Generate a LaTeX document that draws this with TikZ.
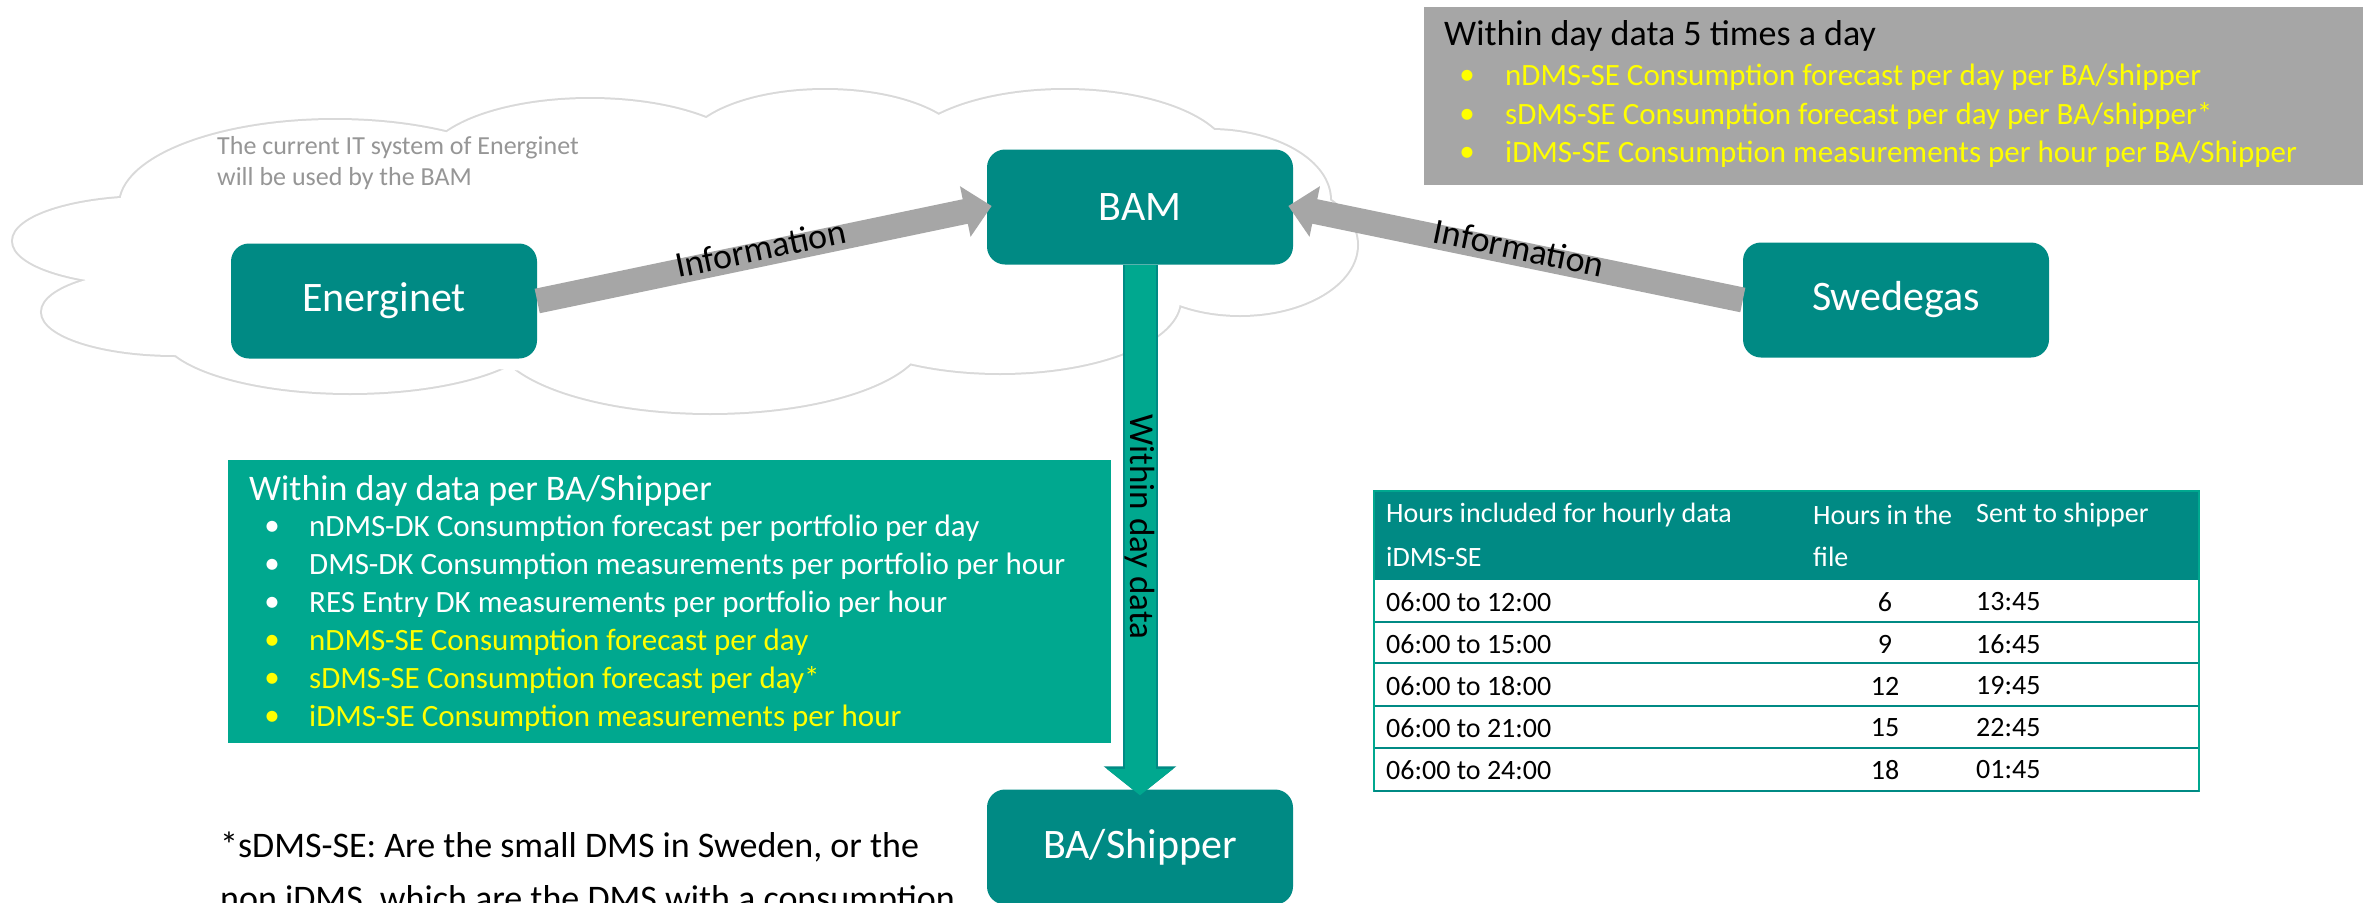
\documentclass[tikz,border=0pt]{standalone}
\usepackage{fontspec}
\setmainfont{Carlito}
\usetikzlibrary{arrows.meta}

\definecolor{tealdark}{RGB}{0,138,132}
\definecolor{teallight}{RGB}{0,168,143}
\definecolor{greybox}{RGB}{166,166,166}
\definecolor{cloudline}{RGB}{217,217,217}
\definecolor{cloudtext}{RGB}{150,150,150}
\definecolor{hilite}{RGB}{255,255,0}
\newcommand{\setfs}[2]{\fontsize{#1}{#2}\selectfont}

\begin{document}
\begin{tikzpicture}[x=1pt, y=-1pt]
	\tikzset{box/.style = {fill=tealdark, rounded corners=18pt, minimum width=306pt, minimum height=115pt, text=white, font=\setfs{42}{50}}}
	\tikzset{txt/.style = {inner sep=0pt, anchor=west}}
	\tikzset{info/.style = {line width=25pt, draw=greybox, -{Triangle[width=50pt, length=27pt]}, shorten >=-5pt}}
	\tikzset{dataout/.style = {line width=35pt, draw=tealdark, -{Triangle[width=71pt, length=29pt]}, shorten >=-6pt}}
	\tikzset{datain/.style = {line width=31pt, draw=teallight, -{Triangle[width=65pt, length=26.5pt]}, shorten >=-6pt}}
	\useasboundingbox (0,0) rectangle (2363,902);
	\foreach \cx/\cy/\rx/\ry in {150/241/137/44, 175/312/133/43, 350/330/190/63, 710/335/215/78, 1000/300/180/73, 1240/245/117/70, 1210/200/120/70, 1065/160/165/70, 825/150/140/60, 590/165/165/66, 335/205/215/85}
		\draw[cloudline, line width=4pt] (\cx,\cy) ellipse [x radius=\rx, y radius=\ry];
	\foreach \cx/\cy/\rx/\ry in {150/241/137/44, 175/312/133/43, 350/330/190/63, 710/335/215/78, 1000/300/180/73, 1240/245/117/70, 1210/200/120/70, 1065/160/165/70, 825/150/140/60, 590/165/165/66, 335/205/215/85}
		\fill[white] (\cx,\cy) ellipse [x radius=\rx, y radius=\ry];
	\fill[white] (670,255) ellipse [x radius=550, y radius=120];
	\node[txt, anchor=north west, align=left, text=cloudtext, font=\setfs{26}{31}] (note) at (217,136) {The current IT system of Energinet\\will be used by the BAM};
	\node[anchor=north west, fill=greybox, minimum width=939pt, minimum height=178pt] (gbox) at (1424,7) {};
	\node[txt, font=\setfs{36}{42}] (gtitle) at (1444,36) {Within day data 5 times a day};
	\foreach \y/\t [count=\i] in {77/{nDMS-SE Consumption forecast per day per BA/shipper}, 116/{sDMS-SE Consumption forecast per day per BA/shipper*}, 154/{iDMS-SE Consumption measurements per hour per BA/Shipper}} {
		\node[txt, anchor=center, text=hilite, font=\setfs{31}{36}] (gdot\i) at (1467,\y) {\textbullet};
		\node[txt, text=hilite, font=\setfs{31}{36}] (gitem\i) at (1505,\y) {\t};
	}
	\node[anchor=north west, fill=teallight, minimum width=883pt, minimum height=283pt] (ibox) at (228,460) {};
	\node[txt, text=white, font=\setfs{36}{42}] (ititle) at (249,491) {Within day data per BA/Shipper};
	\foreach \y/\c/\t [count=\i] in {528/white/{nDMS-DK Consumption forecast per portfolio per day}, 566/white/{DMS-DK Consumption measurements per portfolio per hour}, 604/white/{RES Entry DK measurements per portfolio per hour}, 642/hilite/{nDMS-SE Consumption forecast per day}, 680/hilite/{sDMS-SE Consumption forecast per day*}, 718/hilite/{iDMS-SE Consumption measurements per hour}} {
		\node[txt, anchor=center, text=\c, font=\setfs{31}{36}] (idot\i) at (272,\y) {\textbullet};
		\node[txt, text=\c, font=\setfs{31}{36}] (iitem\i) at (309,\y) {\t};
	}
	\node[box] (en) at (384,301) {Energinet};
	\node[box] (bam) at (1140,207) {BAM};
	\node[box] (swe) at (1896,300) {Swedegas};
	\node[box] (ba) at (1140,847) {BA/Shipper};
	\draw[info] (en.east) -- node[midway, sloped, yshift=6pt, font=\setfs{36}{42}] (inf1) {Information} (bam.west);
	\draw[info] (swe.west) -- node[midway, sloped, yshift=6pt, font=\setfs{36}{42}] (inf2) {Information} (bam.east);
	\draw[dataout] (bam.south) -- (ba.north);
	\draw[datain] (bam.south) -- node[midway, rotate=-90, font=\setfs{35}{42}] (wdd) {Within day data} (ba.north);
	\fill[tealdark] (1374,491) rectangle (2199,580);
	\foreach \y in {622,663,706,748} \draw[tealdark, line width=2pt] (1374,\y) -- (2199,\y);
	\draw[teallight, line width=1.5pt] (1374,491) rectangle (2199,791);
	\draw[tealdark, line width=2pt] (1374,791) -- (2199,791);
	\node[txt, text=white, font=\setfs{28}{34}] (h1) at (1386,515) {Hours included for hourly data};
	\node[txt, text=white, font=\setfs{28}{34}] (h1b) at (1386,557) {iDMS-SE};
	\node[txt, text=white, font=\setfs{28}{34}] (h2) at (1813,515) {Hours in the};
	\node[txt, text=white, font=\setfs{28}{34}] (h2b) at (1813,557) {file};
	\node[txt, text=white, font=\setfs{28}{34}] (h3) at (1976,515) {Sent to shipper};
	\foreach \y/\a/\b/\c [count=\i] in {602/12:00/6/13:45, 644/15:00/9/16:45, 686/18:00/12/19:45, 728/21:00/15/22:45, 770/24:00/18/01:45} {
		\node[txt, font=\setfs{28}{34}] (row\i-a) at (1386,\y) {06:00 to \a};
		\node[txt, anchor=center, font=\setfs{28}{34}] (row\i-b) at (1885,\y) {\b};
		\node[txt, font=\setfs{28}{34}] (row\i-c) at (1976,\y) {\c};
	}
	\node[txt, font=\setfs{36}{45}] (fn1) at (220,847) {*sDMS-SE: Are the small DMS in Sweden, or the};
	\node[txt, font=\setfs{36}{45}] (fn2) at (220,901) {non iDMS, which are the DMS with a consumption};
\end{tikzpicture}
\end{document}
